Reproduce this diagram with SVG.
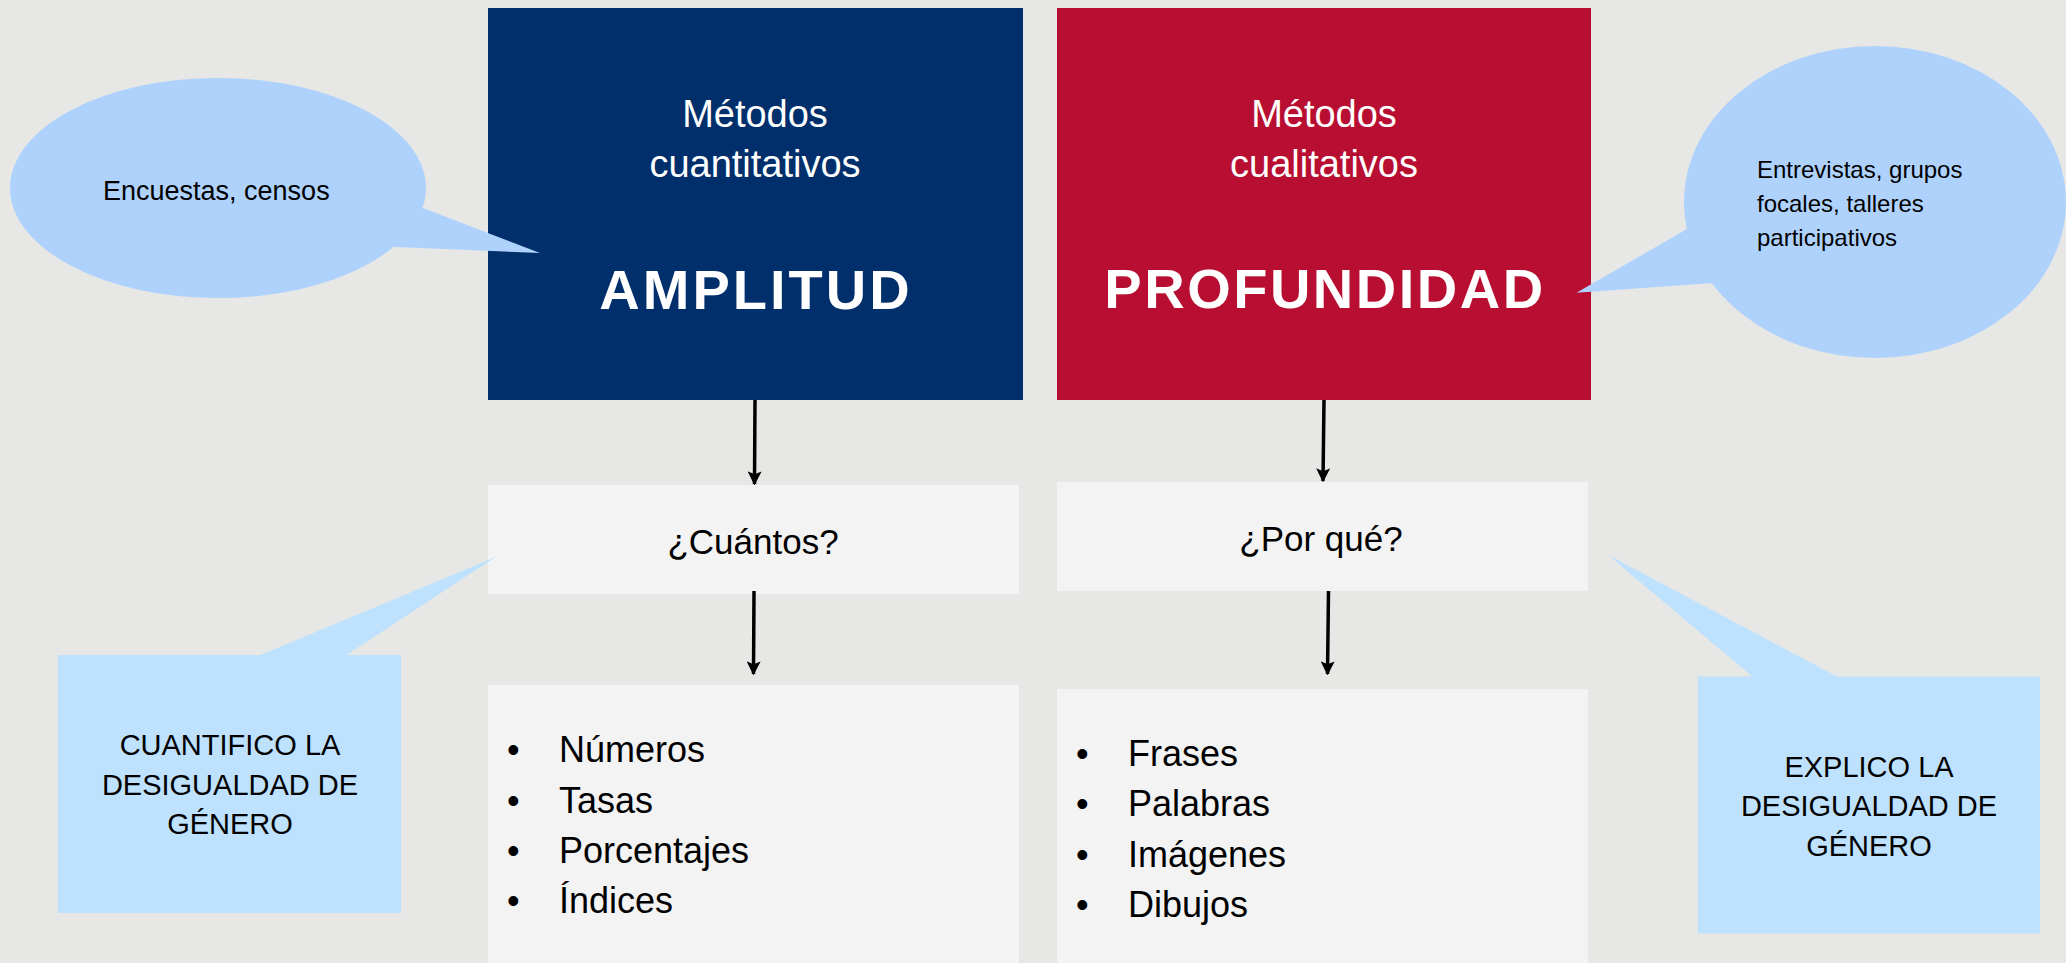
<svg xmlns="http://www.w3.org/2000/svg" width="2066" height="963" viewBox="0 0 2066 963">
<defs>
<style>
text{font-family:"Liberation Sans",Arial,sans-serif;}
.w{fill:#ffffff;}
.k{fill:#000000;}
.bub{fill:#afd2fd;}
.call{fill:#bee2fe;}
.pane{fill:#f3f3f3;}
.conn{stroke:#000;stroke-width:3.5;fill:none;marker-end:url(#ah);}
</style>
<marker id="ah" viewBox="0 0 10 10" refX="9" refY="5" markerWidth="4" markerHeight="4" markerUnits="strokeWidth" orient="auto">
<path d="M0,0 L10,5 L0,10 L2,5 Z" fill="#000"/>
</marker>
</defs>
<rect x="0" y="0" width="2066" height="963" fill="#e7e7e5"/>

<g id="box-cuantitativos">
<rect x="488" y="8" width="535" height="392" fill="#002f6b"/>
<text class="w" x="755" y="127" font-size="38" text-anchor="middle">Métodos</text>
<text class="w" x="755" y="177" font-size="38" text-anchor="middle">cuantitativos</text>
<text class="w" x="756" y="309" font-size="56" font-weight="bold" letter-spacing="3" text-anchor="middle">AMPLITUD</text>
</g>

<g id="box-cualitativos">
<rect x="1057" y="8" width="534" height="392" fill="#b80e31"/>
<text class="w" x="1324" y="127" font-size="38" text-anchor="middle">Métodos</text>
<text class="w" x="1324" y="177" font-size="38" text-anchor="middle">cualitativos</text>
<text class="w" x="1325" y="308" font-size="56" font-weight="bold" letter-spacing="2.5" text-anchor="middle">PROFUNDIDAD</text>
</g>

<g id="bubble-encuestas">
<ellipse class="bub" cx="218" cy="188" rx="208" ry="110"/>
<polygon class="bub" points="423,208 540,253 395,247 380,220"/>
<text class="k" x="103" y="200" font-size="27">Encuestas, censos</text>
</g>

<g id="bubble-entrevistas">
<ellipse class="bub" cx="1875" cy="202" rx="191" ry="156"/>
<polygon class="bub" points="1687,229 1576.5,292.7 1713,283 1730,250"/>
<text class="k" font-size="24"><tspan x="1757" y="178">Entrevistas, grupos</tspan><tspan x="1757" y="212">focales, talleres</tspan><tspan x="1757" y="246">participativos</tspan></text>
</g>

<g id="box-cuantos">
<rect class="pane" x="488" y="485" width="531" height="109"/>
<text class="k" x="753" y="554" font-size="35" text-anchor="middle">¿Cuántos?</text>
</g>

<g id="box-porque">
<rect class="pane" x="1057" y="482" width="531" height="109"/>
<text class="k" x="1321" y="551" font-size="35" text-anchor="middle">¿Por qué?</text>
</g>

<g id="list-cuantitativos">
<rect class="pane" x="488" y="685" width="531" height="278"/>
<g class="k" font-size="36">
<text x="507" y="762">•</text><text x="559" y="762">Números</text>
<text x="507" y="813">•</text><text x="559" y="813">Tasas</text>
<text x="507" y="863">•</text><text x="559" y="863">Porcentajes</text>
<text x="507" y="913">•</text><text x="559" y="913">Índices</text>
</g>
</g>

<g id="list-cualitativos">
<rect class="pane" x="1057" y="689" width="531" height="274"/>
<g class="k" font-size="36">
<text x="1076" y="766">•</text><text x="1128" y="766">Frases</text>
<text x="1076" y="816">•</text><text x="1128" y="816">Palabras</text>
<text x="1076" y="867">•</text><text x="1128" y="867">Imágenes</text>
<text x="1076" y="917">•</text><text x="1128" y="917">Dibujos</text>
</g>
</g>

<g id="callout-cuantifico">
<rect class="call" x="58" y="655" width="343" height="258"/>
<polygon class="call" points="258,656 495.6,557 345,656"/>
<text class="k" font-size="29" text-anchor="middle"><tspan x="230" y="755">CUANTIFICO LA</tspan><tspan x="230" y="795">DESIGUALDAD DE</tspan><tspan x="230" y="834">GÉNERO</tspan></text>
</g>

<g id="callout-explico">
<rect class="call" x="1698" y="676.5" width="342" height="257"/>
<polygon class="call" points="1753.5,677.5 1608,555 1839,677.5"/>
<text class="k" font-size="29" text-anchor="middle"><tspan x="1869" y="777">EXPLICO LA</tspan><tspan x="1869" y="816">DESIGUALDAD DE</tspan><tspan x="1869" y="856">GÉNERO</tspan></text>
</g>

<g id="connectors">
<line class="conn" x1="755" y1="400" x2="754.5" y2="484"/>
<line class="conn" x1="754" y1="591" x2="753.5" y2="674"/>
<line class="conn" x1="1324" y1="400" x2="1323" y2="481"/>
<line class="conn" x1="1328.5" y1="591" x2="1327.5" y2="674"/>
</g>
</svg>
